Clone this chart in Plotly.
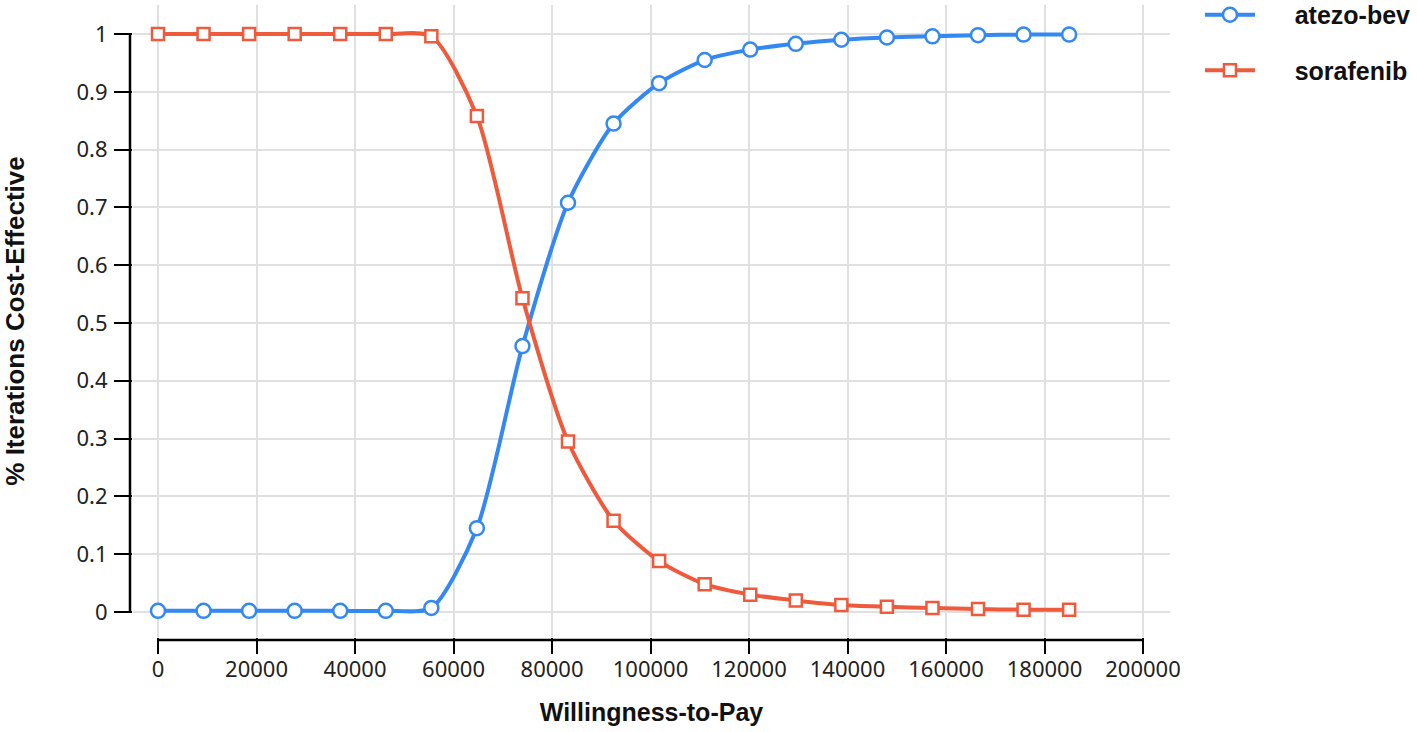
import plotly.graph_objects as go

wtp = [0, 9250, 18500, 27750, 37000, 46250, 55500, 64750, 74000, 83250, 92500,
       101750, 111000, 120250, 129500, 138750, 148000, 157250, 166500, 175750, 185000]
atezo_bev = [0.002, 0.002, 0.002, 0.002, 0.002, 0.002, 0.007, 0.145, 0.460, 0.708, 0.845,
             0.915, 0.955, 0.973, 0.983, 0.990, 0.994, 0.996, 0.998, 0.999, 0.999]
sorafenib = [1.0, 1.0, 1.0, 1.0, 1.0, 1.0, 0.996, 0.858, 0.543, 0.295, 0.158,
             0.088, 0.048, 0.030, 0.020, 0.012, 0.009, 0.007, 0.005, 0.004, 0.004]
series_names = ["atezo-bev", "sorafenib"]
x_ticks = [0, 20000, 40000, 60000, 80000, 100000, 120000, 140000, 160000, 180000, 200000]
y_ticks = [0, 0.1, 0.2, 0.3, 0.4, 0.5, 0.6, 0.7, 0.8, 0.9, 1]
y_tick_text = ["0", "0.1", "0.2", "0.3", "0.4", "0.5", "0.6", "0.7", "0.8", "0.9", "1"]

BLUE = "#3388f2"
RED = "#ef5a3c"
GAP = "\u00a0" * 5  # spacing between legend symbol and label

fig = go.Figure()
fig.add_trace(go.Scatter(
    x=wtp, y=atezo_bev, name=GAP + series_names[0], mode="lines+markers",
    legendgroup="a",
    line=dict(color=BLUE, width=4, shape="spline", smoothing=0.7),
    marker=dict(symbol="circle", size=14, color="white", line=dict(color=BLUE, width=2.5)),
))
fig.add_trace(go.Scatter(
    x=wtp, y=sorafenib, name=GAP + series_names[1], mode="lines+markers",
    legendgroup="b",
    line=dict(color=RED, width=4, shape="spline", smoothing=0.7),
    marker=dict(symbol="square", size=12, color="white", line=dict(color=RED, width=2.5)),
))

tick_font = dict(family="Noto Sans, Open Sans, sans-serif", size=22, color="#222")

fig.update_layout(
    width=1417, height=732,
    margin=dict(l=133, r=247, t=5, b=95, autoexpand=False),
    plot_bgcolor="white", paper_bgcolor="white",
    showlegend=True,
    legend=dict(
        x=1.0289, y=1.0206, xanchor="left", yanchor="top",
        font=dict(family="Liberation Sans, Arial, sans-serif", size=25, color="#111", weight="bold"),
        itemwidth=50, traceorder="grouped", tracegroupgap=20,
        bgcolor="rgba(0,0,0,0)",
    ),
    xaxis=dict(
        range=[-5076, 205482], tickvals=x_ticks, ticktext=[str(v) for v in x_ticks],
        showgrid=True, gridcolor="#e0e0e0", gridwidth=1.5, zeroline=False,
        showline=False, ticks="outside", ticklen=16, tickwidth=2, tickcolor="black",
        tickfont=tick_font, ticklabelstandoff=-3,
        title=dict(text="Willingness-to-Pay",
                   font=dict(family="Liberation Sans, Arial, sans-serif", size=25, color="#111", weight="bold"),
                   standoff=21),
    ),
    yaxis=dict(
        range=[-0.0433, 1.0502], tickvals=y_ticks, ticktext=y_tick_text,
        showgrid=True, gridcolor="#e0e0e0", gridwidth=1.5, zeroline=False,
        showline=False, ticks="outside", ticklen=18, tickwidth=2, tickcolor="black",
        tickfont=tick_font, ticklabelstandoff=2,
        title=dict(text="% Iterations Cost-Effective",
                   font=dict(family="Liberation Sans, Arial, sans-serif", size=26, color="#111", weight="bold"),
                   standoff=46),
    ),
)

# offset axis lines (d3-style)
fig.add_shape(type="line", xref="paper", yref="y", x0=-0.0029, x1=-0.0029, y0=0, y1=1,
              line=dict(color="black", width=2.5))
fig.add_shape(type="line", xref="x", yref="paper", x0=0, x1=200000, y0=-0.00475, y1=-0.00475,
              line=dict(color="black", width=2.5))

fig.write_html("out.html", config={"displayModeBar": False},
               post_script="document.body.style.margin='0';")
